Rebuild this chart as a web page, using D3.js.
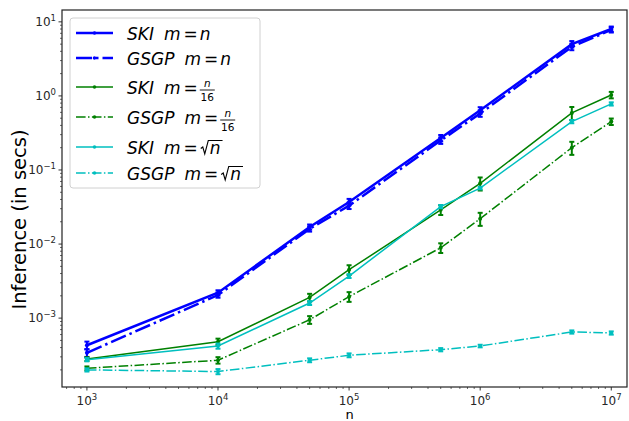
<!DOCTYPE html>
<html>
<head>
<meta charset="utf-8">
<script src="https://cdn.jsdelivr.net/npm/d3@7"></script>
<style>
  body { margin: 0; background: #fff; }
  svg { font-family: "DejaVu Sans", sans-serif; }
</style>
</head>
<body>
<svg width="629" height="421"></svg>
<script>
var margin = {top: 10, left: 62, bottom: 34, right: 2};
var width = 629 - margin.left - margin.right;
var height = 421 - margin.top - margin.bottom;

// data
var sizes = [1e3, 1e4, 5e4, 1e5, 5e5, 1e6, 5e6, 1e7];
var skiFull   = [4.3e-4, 2.2e-3, 0.017, 0.037, 0.27, 0.64, 5.0, 8.0];
var gsgpFull  = [3.4e-4, 2.05e-3, 0.016, 0.033, 0.25, 0.58, 4.6, 7.8];
var skiN16    = [2.8e-4, 4.8e-4, 1.9e-3, 4.5e-3, 0.029, 0.066, 0.59, 1.03];
var gsgpN16   = [2.1e-4, 2.7e-4, 9.5e-4, 1.95e-3, 8.9e-3, 0.022, 0.20, 0.45];
var skiSqrt   = [2.75e-4, 4.2e-4, 1.6e-3, 3.7e-3, 0.032, 0.057, 0.45, 0.78];
var gsgpSqrt  = [2.0e-4, 1.9e-4, 2.7e-4, 3.15e-4, 3.75e-4, 4.2e-4, 6.5e-4, 6.3e-4];
// relative half-spread of the error bars
var errFull  = [0.12, 0.08, 0.08, 0.1, 0.1, 0.1, 0.1, 0.08];
var errN16   = [0.06, 0.1, 0.12, 0.15, 0.15, 0.2, 0.2, 0.1];
var errSqrt  = [0.05, 0.08, 0.06, 0.06, 0.05, 0.04, 0.05, 0.05];
var xTicks = [1e3, 1e4, 1e5, 1e6, 1e7];
var yTicks = [1e-3, 1e-2, 1e-1, 1e0, 1e1];

var series = [
  {name: "SKI", m: "n", values: skiFull, err: errFull, color: "#0000ff", lw: 2.5, dash: null},
  {name: "GSGP", m: "n", values: gsgpFull, err: errFull, color: "#0000ff", lw: 2.5, dash: "dashdot"},
  {name: "SKI", m: "n16", values: skiN16, err: errN16, color: "#008000", lw: 1.5, dash: null},
  {name: "GSGP", m: "n16", values: gsgpN16, err: errN16, color: "#008000", lw: 1.5, dash: "dashdot"},
  {name: "SKI", m: "sqrt", values: skiSqrt, err: errSqrt, color: "#00bfbf", lw: 1.5, dash: null},
  {name: "GSGP", m: "sqrt", values: gsgpSqrt, err: errSqrt, color: "#00bfbf", lw: 1.5, dash: "dashdot"}
];

function dashFor(s) {
  if (!s.dash) return null;
  var w = s.lw;
  return [6.4 * w, 1.6 * w, 1 * w, 1.6 * w].join(",");
}

var svg = d3.select("svg")
  .append("g")
  .attr("transform", "translate(" + margin.left + "," + margin.top + ")");

var x = d3.scaleLog()
  .domain([Math.pow(10, 2.81), Math.pow(10, 7.12)])
  .range([0, width]);

var y = d3.scaleLog()
  .domain([Math.pow(10, -3.93), Math.pow(10, 1.16)])
  .range([height, 0]);

// minor ticks
function minorTicks(lo, hi) {
  var out = [];
  for (var e = lo; e <= hi; e++) {
    for (var k = 2; k <= 9; k++) out.push(k * Math.pow(10, e));
  }
  return out;
}

var xMinor = minorTicks(2, 7).filter(function (v) { return v >= x.domain()[0] && v <= x.domain()[1]; });
var yMinor = minorTicks(-4, 1).filter(function (v) { return v >= y.domain()[0] && v <= y.domain()[1]; });

svg.selectAll(".xminor").data(xMinor).enter().append("line")
  .attr("x1", function (d) { return x(d); })
  .attr("x2", function (d) { return x(d); })
  .attr("y1", height).attr("y2", height + 2)
  .attr("stroke", "#000").attr("stroke-width", 0.6);

svg.selectAll(".yminor").data(yMinor).enter().append("line")
  .attr("y1", function (d) { return y(d); })
  .attr("y2", function (d) { return y(d); })
  .attr("x1", 0).attr("x2", -2)
  .attr("stroke", "#000").attr("stroke-width", 0.6);

svg.selectAll(".xmajor").data(xTicks).enter().append("line")
  .attr("x1", function (d) { return x(d); })
  .attr("x2", function (d) { return x(d); })
  .attr("y1", height).attr("y2", height + 3.5)
  .attr("stroke", "#000").attr("stroke-width", 0.8);

svg.selectAll(".ymajor").data(yTicks).enter().append("line")
  .attr("y1", function (d) { return y(d); })
  .attr("y2", function (d) { return y(d); })
  .attr("x1", 0).attr("x2", -3.5)
  .attr("stroke", "#000").attr("stroke-width", 0.8);

function expOf(v) { return Math.round(Math.log10(v)); }
function expText(e) { return e < 0 ? "\u2212" + (-e) : "" + e; }

var xl = svg.selectAll(".xlab").data(xTicks).enter().append("text")
  .attr("x", function (d) { return x(d); })
  .attr("y", height + 17.5)
  .attr("text-anchor", "middle")
  .attr("font-size", 12)
  .attr("fill", "#262626");
xl.append("tspan").text("10");
xl.append("tspan").attr("font-size", 8.5).attr("dy", -5)
  .text(function (d) { return expText(expOf(d)); });

var yl = svg.selectAll(".ylab").data(yTicks).enter().append("text")
  .attr("x", -6)
  .attr("y", function (d) { return y(d) + 4; })
  .attr("text-anchor", "end")
  .attr("font-size", 12)
  .attr("fill", "#262626");
yl.append("tspan").text("10");
yl.append("tspan").attr("font-size", 8.5).attr("dy", -5)
  .text(function (d) { return expText(expOf(d)); });

// axis titles
svg.append("text")
  .attr("x", width / 2 + 5)
  .attr("y", height + 31.5)
  .attr("text-anchor", "middle")
  .attr("font-size", 13)
  .text("n");

svg.append("text")
  .attr("transform", "translate(" + (-36) + "," + (height / 2 + 21) + ") rotate(-90)")
  .attr("text-anchor", "middle")
  .attr("font-size", 19.5)
  .text("Inference (in secs)");

// lines
var line = d3.line()
  .x(function (d) { return x(d[0]); })
  .y(function (d) { return y(d[1]); });

series.forEach(function (s) {
  var pts = sizes.map(function (n, i) { return [n, s.values[i], s.err[i]]; });
  var g = svg.append("g");

  g.selectAll(".eb").data(pts).enter().append("g").each(function (d) {
    var gg = d3.select(this);
    var lo = d[1] * (1 - d[2]), hi = d[1] * (1 + d[2]);
    gg.append("line")
      .attr("x1", x(d[0])).attr("x2", x(d[0]))
      .attr("y1", y(lo)).attr("y2", y(hi))
      .attr("stroke", s.color).attr("stroke-width", 2);
    [lo, hi].forEach(function (v) {
      gg.append("line")
        .attr("x1", x(d[0]) - 2.5).attr("x2", x(d[0]) + 2.5)
        .attr("y1", y(v)).attr("y2", y(v))
        .attr("stroke", s.color).attr("stroke-width", 2);
    });
  });

  g.append("path")
    .datum(pts)
    .attr("fill", "none")
    .attr("stroke", s.color)
    .attr("stroke-width", s.lw)
    .attr("stroke-dasharray", dashFor(s))
    .attr("d", line);

  g.selectAll(".dot").data(pts).enter().append("circle")
    .attr("cx", function (d) { return x(d[0]); })
    .attr("cy", function (d) { return y(d[1]); })
    .attr("r", 2)
    .attr("fill", s.color);
});

// frame
svg.append("rect")
  .attr("width", width).attr("height", height)
  .attr("fill", "none")
  .attr("stroke", "#222").attr("stroke-width", 1.2);

// legend
var legend = svg.append("g").attr("transform", "translate(8,8)");
legend.append("rect")
  .attr("width", 190).attr("height", 170)
  .attr("rx", 3)
  .attr("fill", "#fff").attr("fill-opacity", 0.8)
  .attr("stroke", "#d0d0d0");

var rowY = [15, 40, 69, 99, 129, 155];
var fs = 17;
series.forEach(function (s, i) {
  var row = legend.append("g").attr("transform", "translate(0," + rowY[i] + ")");
  row.append("line")
    .attr("x1", 6).attr("x2", 43)
    .attr("stroke", s.color).attr("stroke-width", s.lw)
    .attr("stroke-dasharray", dashFor(s));
  row.append("circle").attr("cx", 24.5).attr("r", 1.8).attr("fill", s.color);

  var b = 6.5; // text baseline relative to row centre
  var cx = 57;
  var nm = row.append("text").attr("x", cx).attr("y", b)
    .attr("font-size", fs).attr("font-style", "italic").text(s.name);
  cx += nm.node().getComputedTextLength() + 10;
  var mm = row.append("text").attr("x", cx).attr("y", b)
    .attr("font-size", fs).attr("font-style", "italic").text("m");
  cx += mm.node().getComputedTextLength() + 3;
  var eq = row.append("text").attr("x", cx).attr("y", b)
    .attr("font-size", fs).text("=");
  cx += eq.node().getComputedTextLength() + 2;

  if (s.m === "n") {
    row.append("text").attr("x", cx).attr("y", b)
      .attr("font-size", fs).attr("font-style", "italic").text("n");
  } else if (s.m === "n16") {
    row.append("text").attr("x", cx + 7.5).attr("y", b - 6.5)
      .attr("text-anchor", "middle")
      .attr("font-size", 10.5).attr("font-style", "italic").text("n");
    row.append("line").attr("x1", cx).attr("x2", cx + 15)
      .attr("y1", b - 3.5).attr("y2", b - 3.5)
      .attr("stroke", "#000").attr("stroke-width", 0.9);
    row.append("text").attr("x", cx + 7.5).attr("y", b + 7)
      .attr("text-anchor", "middle")
      .attr("font-size", 10.5).text("16");
  } else {
    var nt = row.append("text").attr("x", cx + 10).attr("y", b)
      .attr("font-size", fs).attr("font-style", "italic").text("n");
    var nw = nt.node().getComputedTextLength();
    row.append("path")
      .attr("d", "M" + (cx + 1) + "," + (b - 5) +
        " L" + (cx + 3) + "," + (b - 6.5) +
        " L" + (cx + 5) + "," + (b + 0.5) +
        " L" + (cx + 8.5) + "," + (b - 13) +
        " L" + (cx + 12 + nw) + "," + (b - 13))
      .attr("fill", "none")
      .attr("stroke", "#000").attr("stroke-width", 1.1);
  }
});
</script>
</body>
</html>
